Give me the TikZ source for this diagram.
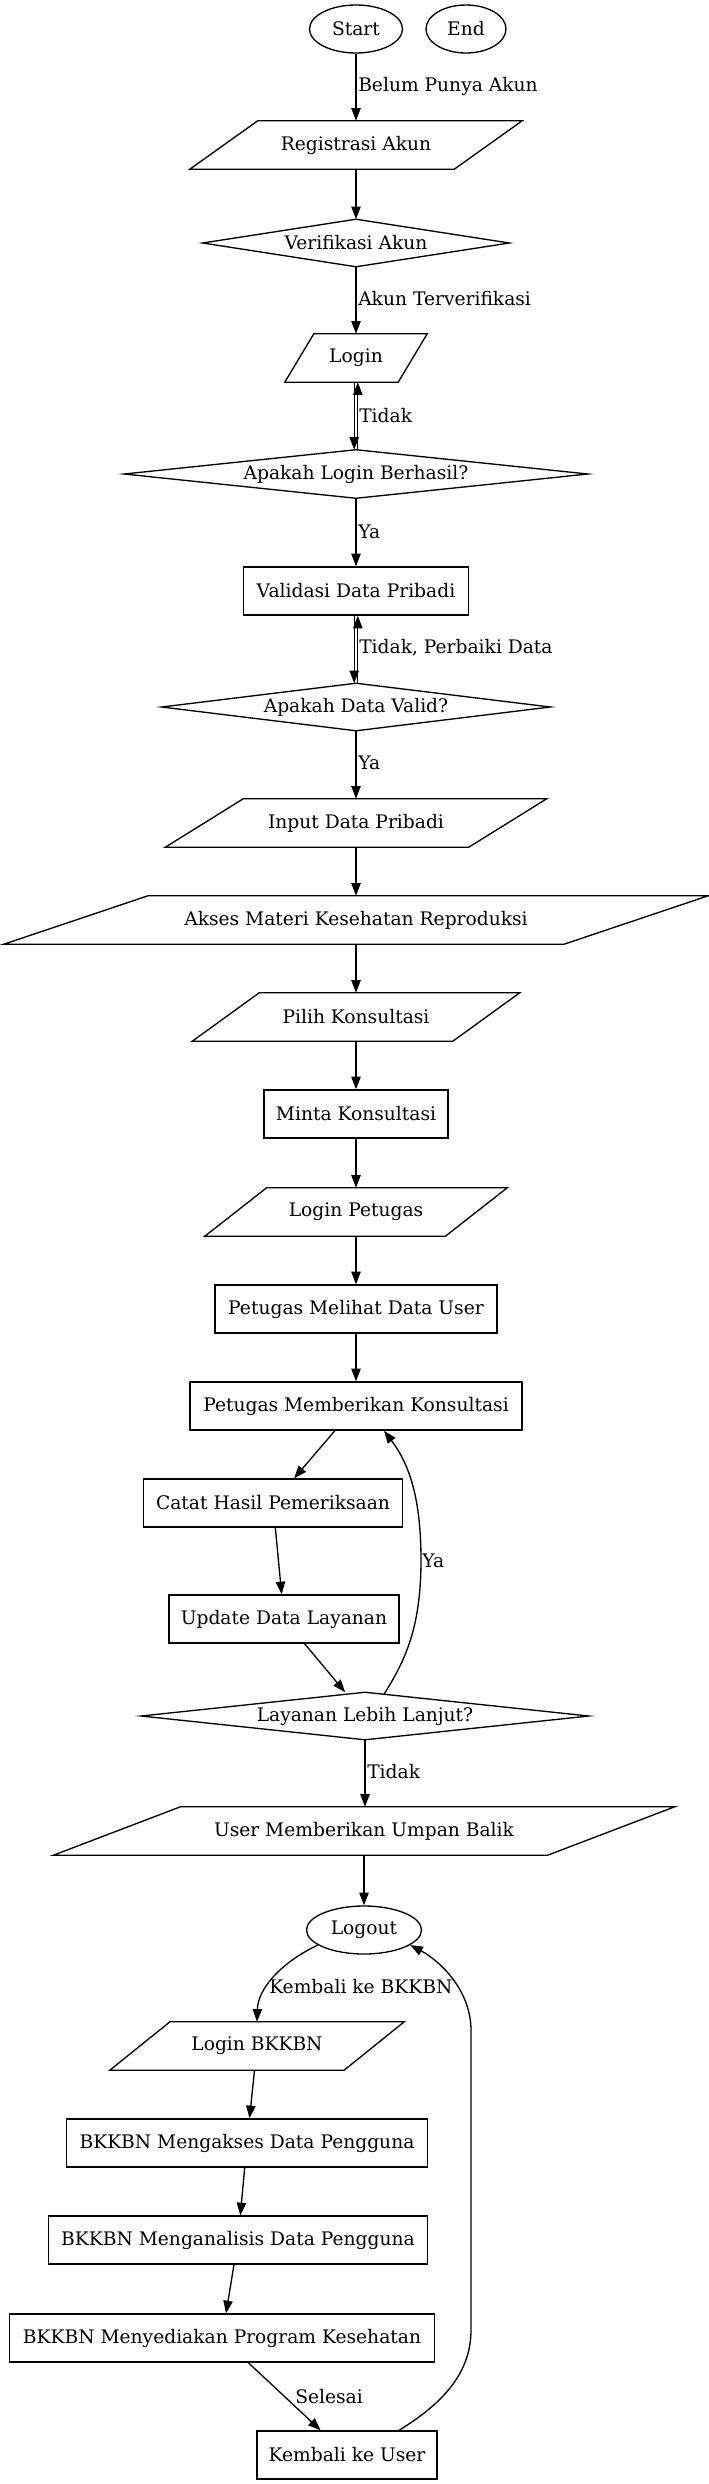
\documentclass[tikz,border=0pt]{standalone}
\usepackage{fontspec}
\setmainfont{DejaVu Serif}
\usetikzlibrary{calc,arrows.meta,shapes.geometric}

\tikzset{
  base/.style={inner sep=0pt, font=\fontsize{14}{16}\selectfont},
  procbox/.style={base, draw, line width=1pt, minimum width=#1*0.75pt, minimum height=36pt},
  ghost/.style={base, minimum width=#1*0.75pt, minimum height=36pt},
  oval/.style={base, draw, ellipse, line width=1pt, minimum width=#1*0.75pt, minimum height=36pt},
  conn/.style={line width=1pt, -{Triangle[length=9.5pt,width=7pt]}},
  outline/.style={line width=1pt, line join=miter},
  lbl/.style={base, anchor=west},
}

\newcommand{\paranode}[5]{%
  \node[ghost=#4] (#1) at (#2,#3) {#5};
  \draw[outline] ($(#1.north west)+(0.205*#4,0)$) -- (#1.north east)
     -- ($(#1.south east)-(0.205*#4,0)$) -- (#1.south west) -- cycle;
}
\newcommand{\dianode}[6]{%
  \node[base, minimum width=#4*0.75pt, minimum height=#5*0.75pt] (#1) at (#2,#3) {#6};
  \draw[outline] (#1.north) -- (#1.east) -- (#1.south) -- (#1.west) -- cycle;
}

\begin{document}
\begin{tikzpicture}[x=0.75pt, y=-0.75pt]
\useasboundingbox (0,0) rectangle (709,2484);

% nodes
\node[oval=93] (start) at (356,29) {Start};
\node[oval=80] (end) at (466,29) {End};
\paranode{reg}{356}{145}{332}{Registrasi Akun}
\dianode{verif}{356}{243}{306}{47}{Verifikasi Akun}
\paranode{login}{356}{358}{142}{Login}
\dianode{cekLogin}{356}{474}{463}{48}{Apakah Login Berhasil?}
\node[procbox=225] (valid) at (356,591) {Validasi Data Pribadi};
\dianode{cekData}{356}{707}{388}{47}{Apakah Data Valid?}
\paranode{input}{356}{823}{381}{Input Data Pribadi}
\paranode{akses}{356}{920}{704}{Akses Materi Kesehatan Reproduksi}
\paranode{pilih}{356}{1017}{327}{Pilih Konsultasi}
\node[procbox=184] (minta) at (356,1114) {Minta Konsultasi};
\paranode{loginPet}{356}{1212}{302}{Login Petugas}
\node[procbox=282] (lihat) at (356,1309) {Petugas Melihat Data User};
\node[procbox=332] (beri) at (356,1406) {Petugas Memberikan Konsultasi};
\node[procbox=259] (catat) at (273,1503) {Catat Hasil Pemeriksaan};
\node[procbox=230] (update) at (284,1619) {Update Data Layanan};
\dianode{layanan}{365}{1716}{447}{47}{Layanan Lebih Lanjut?}
\paranode{umpan}{364}{1831}{621}{User Memberikan Umpan Balik}
\node[oval=115] (logout) at (364,1930) {Logout};
\paranode{loginB}{257}{2046}{294}{Login BKKBN}
\node[procbox=361] (aksesB) at (247,2143) {BKKBN Mengakses Data Pengguna};
\node[procbox=379] (analisis) at (238,2240) {BKKBN Menganalisis Data Pengguna};
\node[procbox=425] (sedia) at (222,2338) {BKKBN Menyediakan Program Kesehatan};
\node[procbox=180] (kembali) at (347,2455) {Kembali ke User};

% connectors
\draw[conn] (start) -- (reg);
\node[lbl] (l1) at (358,86) {Belum Punya Akun};
\draw[conn] (reg) -- (verif);
\draw[conn] (verif) -- (login);
\node[lbl] (l2) at (358,299) {Akun Terverifikasi};
\draw[conn] ($(login.south)+(-1.8,0)$) -- ($(cekLogin.north)+(-1.8,0)$);
\draw[conn] ($(cekLogin.north)+(1.8,0)$) -- ($(login.south)+(1.8,0)$);
\node[lbl] (l3) at (359,416) {Tidak};
\draw[conn] (cekLogin) -- (valid);
\node[lbl] (l4) at (358,532) {Ya};
\draw[conn] ($(valid.south)+(-1.8,0)$) -- ($(cekData.north)+(-1.8,0)$);
\draw[conn] ($(cekData.north)+(1.8,0)$) -- ($(valid.south)+(1.8,0)$);
\node[lbl] (l5) at (359,648) {Tidak, Perbaiki Data};
\draw[conn] (cekData) -- (input);
\node[lbl] (l6) at (358,763) {Ya};
\draw[conn] (input) -- (akses);
\draw[conn] (akses) -- (pilih);
\draw[conn] (pilih) -- (minta);
\draw[conn] (minta) -- (loginPet);
\draw[conn] (loginPet) -- (lihat);
\draw[conn] (lihat) -- (beri);
\draw[conn] (beri) -- (catat);
\draw[conn] (catat) -- (update);
\draw[conn] (update) -- (layanan);
\draw[conn] ($(layanan.north)!0.085!(layanan.east)$)
   .. controls (404,1662) and (421,1630) .. (421,1560)
   .. controls (421,1500) and (410,1465) .. ($(beri.south)+(28,0)$);
\node[lbl] (l7) at (422,1561) {Ya};
\draw[conn] (layanan.south) -- (layanan.south |- umpan.north);
\node[lbl] (l8) at (367,1772) {Tidak};
\draw[conn] (umpan) -- (logout);
\draw[conn] (logout.198) .. controls (282,1962) and (258,1988) .. (loginB.north);
\node[lbl] (l9) at (269,1987) {Kembali ke BKKBN};
\draw[conn] (loginB) -- (aksesB);
\draw[conn] (aksesB) -- (analisis);
\draw[conn] (analisis) -- (sedia);
\draw[conn] (sedia) -- (kembali);
\node[lbl] (l10) at (295,2397) {Selesai};
\draw[conn] ($(kembali.north)+(52,0)$) .. controls (440,2405) and (471,2375) .. (471,2330)
   -- (471,2030) .. controls (471,1992) and (442,1962) .. (logout.-18);
\end{tikzpicture}
\end{document}
